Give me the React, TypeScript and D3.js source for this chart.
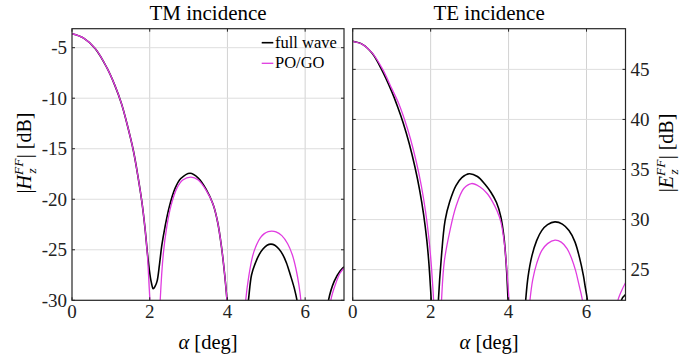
import React from "react";
import * as d3 from "d3";

// ---------- data ----------
const X_TICKS = [0, 2, 4, 6];
const TM_Y_TICKS = [-30, -25, -20, -15, -10, -5];
const TE_Y_TICKS = [25, 30, 35, 40, 45];

const TM_FW_ALPHA = [0, 0.3, 0.6, 0.9, 1.1, 1.27, 1.42, 1.58, 1.7, 1.8, 1.88, 1.94, 1.99, 2.04, 2.09, 2.14, 2.19, 2.25, 2.31, 2.39, 2.5, 2.65, 2.8, 3.04, 3.25, 3.45, 3.63, 3.75, 3.85, 3.93, 4.0, 4.1, 4.27, 4.44, 4.54, 4.62, 4.72, 4.82, 4.92, 5.02, 5.12, 5.22, 5.32, 5.42, 5.52, 5.62, 5.72, 5.8, 5.9, 6.2, 6.5, 6.6, 6.75, 6.9, 7.0];
const TM_FW_DB = [-3.62, -4.05, -5.1, -7.0, -8.7, -10.5, -12.6, -15.2, -17.8, -20.3, -22.9, -25.3, -27.0, -28.2, -28.85, -28.6, -28.1, -26.5, -24.6, -22.8, -20.8, -18.95, -17.95, -17.42, -17.9, -19.0, -20.5, -22.3, -24.8, -27.5, -30.5, -36, -45, -33, -30, -27.5, -26.3, -25.45, -24.9, -24.55, -24.44, -24.55, -24.9, -25.45, -26.3, -27.5, -28.8, -30.2, -33.5, -45, -33, -30, -28.1, -27.1, -26.7];

const TM_PO_ALPHA = [0, 0.3, 0.6, 0.9, 1.1, 1.27, 1.42, 1.58, 1.7, 1.8, 1.88, 1.94, 1.98, 2.01, 2.06, 2.13, 2.2, 2.27, 2.35, 2.44, 2.55, 2.7, 2.85, 3.06, 3.25, 3.45, 3.63, 3.75, 3.85, 3.93, 4.0, 4.1, 4.25, 4.38, 4.47, 4.55, 4.65, 4.75, 4.85, 4.95, 5.05, 5.14, 5.25, 5.4, 5.55, 5.67, 5.77, 5.84, 5.89, 5.97, 6.25, 6.55, 6.66, 6.8, 6.9, 7.0];
const TM_PO_DB = [-3.62, -4.05, -5.1, -7.0, -8.7, -10.5, -12.6, -15.2, -17.8, -20.3, -22.9, -25.5, -28.3, -30.5, -38, -45, -38, -30, -25.4, -22.7, -20.6, -18.9, -18.1, -17.8, -18.1, -19.1, -20.5, -22.3, -24.8, -27.5, -30.5, -36, -45, -35, -30, -27.6, -25.6, -24.5, -23.8, -23.4, -23.2, -23.15, -23.22, -23.6, -24.4, -25.5, -27.0, -28.5, -30, -34, -45, -35, -30, -28.2, -27.3, -26.8];

const TE_FW_ALPHA = [0, 0.25, 0.5, 0.74, 1.0, 1.15, 1.3, 1.45, 1.6, 1.72, 1.82, 1.9, 1.95, 1.99, 2.02, 2.06, 2.1, 2.15, 2.2, 2.27, 2.37, 2.49, 2.65, 2.8, 2.99, 3.2, 3.4, 3.55, 3.69, 3.8, 3.88, 3.94, 3.98, 4.02, 4.2, 4.35, 4.44, 4.5, 4.6, 4.72, 4.85, 5.0, 5.19, 5.38, 5.55, 5.7, 5.82, 5.92, 5.97, 6.02, 6.1, 6.45, 6.8, 6.9, 7.0];
const TE_FW_DB = [47.8, 47.5, 46.6, 45.0, 42.8, 41.3, 39.6, 37.6, 35.2, 32.9, 30.5, 28.0, 25.9, 23.6, 21.5, 16, 12, 17, 22, 26.0, 29.9, 31.8, 33.4, 34.2, 34.58, 34.3, 33.5, 32.7, 31.7, 30.3, 28.3, 25.5, 22.5, 19, 12, 17, 22, 24.3, 26.4, 27.9, 28.9, 29.5, 29.77, 29.55, 28.9, 27.8, 26.2, 24.4, 23.2, 22.0, 18, 12, 18, 22, 22.5];

const TE_PO_ALPHA = [0, 0.25, 0.5, 0.77, 1.0, 1.18, 1.33, 1.48, 1.63, 1.76, 1.87, 1.95, 2.01, 2.05, 2.08, 2.12, 2.17, 2.23, 2.28, 2.35, 2.49, 2.65, 2.85, 3.05, 3.25, 3.45, 3.6, 3.7, 3.8, 3.88, 3.95, 4.0, 4.05, 4.28, 4.45, 4.55, 4.62, 4.72, 4.85, 5.0, 5.19, 5.35, 5.5, 5.62, 5.72, 5.8, 5.86, 5.9, 5.98, 6.35, 6.65, 6.81, 6.9, 7.0];
const TE_PO_DB = [47.8, 47.5, 46.65, 45.0, 43.1, 41.6, 40.0, 38.1, 35.8, 33.4, 30.8, 28.3, 25.8, 23.6, 21.6, 16, 12, 17, 22, 25.8, 28.8, 31.3, 33.1, 33.6, 33.3, 32.6, 31.7, 30.9, 29.8, 28.0, 25.2, 22.6, 19, 12, 17, 22, 24.0, 25.6, 26.9, 27.6, 27.94, 27.75, 27.1, 26.1, 24.9, 23.6, 22.6, 21.8, 18, 12, 18, 22, 22.9, 23.7];

const LEGEND = ["full wave", "PO/GO"];

// ---------- style ----------
const FONT = "'Liberation Serif', 'Times New Roman', serif";
const BLACK = "#000000";
const MAGENTA = "#e03ce0";
const AXIS = "#262626";

type PanelProps = {
  id: string;
  x0: number; x1: number; y0: number; y1: number;
  yDomain: [number, number];
  yTicks: number[];
  fwA: number[]; fwV: number[];
  poA: number[]; poV: number[];
  right: boolean;
  title: string;
};

function Panel(p: PanelProps) {
  const xs = d3.scaleLinear().domain([0, 7]).range([p.x0, p.x1]);
  const ys = d3.scaleLinear().domain(p.yDomain).range([p.y1, p.y0]);
  const mk = (a: number[]) =>
    d3.line<number>().x((_, i) => xs(a[i])).y((d) => ys(d)).curve(d3.curveCatmullRom.alpha(0.5));
  const tl = 3;
  const cx = (p.x0 + p.x1) / 2;
  return (
    <g>
      <defs>
        <clipPath id={p.id}>
          <rect x={p.x0} y={p.y0} width={p.x1 - p.x0} height={p.y1 - p.y0} />
        </clipPath>
      </defs>
      {/* grid */}
      {X_TICKS.filter((t) => t > 0).map((t) => (
        <line key={"gx" + t} x1={xs(t)} x2={xs(t)} y1={p.y0} y2={p.y1} stroke="#d2d2d2" strokeWidth={1} />
      ))}
      {p.yTicks.map((t) => (
        <line key={"gy" + t} x1={p.x0} x2={p.x1} y1={ys(t)} y2={ys(t)} stroke="#dedede" strokeWidth={1} />
      ))}
      {/* curves */}
      <g clipPath={`url(#${p.id})`}>
        <path d={mk(p.fwA)(p.fwV) || ""} fill="none" stroke={BLACK} strokeWidth={1.6} strokeLinejoin="round" />
        <path d={mk(p.poA)(p.poV) || ""} fill="none" stroke={MAGENTA} strokeWidth={1.3} strokeLinejoin="round" />
      </g>
      {/* ticks */}
      {X_TICKS.map((t) => (
        <g key={"tx" + t}>
          <line x1={xs(t)} x2={xs(t)} y1={p.y1} y2={p.y1 - tl} stroke={AXIS} strokeWidth={1} />
          <line x1={xs(t)} x2={xs(t)} y1={p.y0} y2={p.y0 + tl} stroke={AXIS} strokeWidth={1} />
          <text x={xs(t)} y={p.y1 + 17.5} textAnchor="middle" fontFamily={FONT} fontSize={19} fill="#222">{t}</text>
        </g>
      ))}
      {p.yTicks.map((t) => (
        <g key={"ty" + t}>
          <line x1={p.x0} x2={p.x0 + tl} y1={ys(t)} y2={ys(t)} stroke={AXIS} strokeWidth={1} />
          <line x1={p.x1} x2={p.x1 - tl} y1={ys(t)} y2={ys(t)} stroke={AXIS} strokeWidth={1} />
          {p.right ? (
            <text x={p.x1 + 5} y={ys(t) + 6.3} textAnchor="start" fontFamily={FONT} fontSize={19} fill="#222">{t}</text>
          ) : (
            <text x={p.x0 - 5} y={ys(t) + 6.3} textAnchor="end" fontFamily={FONT} fontSize={19} fill="#222">{t}</text>
          )}
        </g>
      ))}
      {/* box */}
      <rect x={p.x0} y={p.y0} width={p.x1 - p.x0} height={p.y1 - p.y0} fill="none" stroke={AXIS} strokeWidth={1.2} />
      {/* title */}
      <text x={cx} y={19.5} textAnchor="middle" fontFamily={FONT} fontSize={21} fill="#000">{p.title}</text>
      {/* x label */}
      <text x={cx} y={349} textAnchor="middle" fontFamily={FONT} fontSize={20.5} fill="#000">
        <tspan fontStyle="italic">α</tspan>
        <tspan> [deg]</tspan>
      </text>
    </g>
  );
}

function YLabel({ x, y, letter }: { x: number; y: number; letter: string }) {
  return (
    <text transform={`translate(${x},${y}) rotate(-90)`} textAnchor="middle" fontFamily={FONT} fontSize={20} fill="#000">
      <tspan>|</tspan>
      <tspan fontStyle="italic">{letter}</tspan>
      <tspan fontStyle="italic" fontSize={13.5} dy={-8}>FF</tspan>
      <tspan fontStyle="italic" fontSize={13.5} dx={-15} dy={13}>z</tspan>
      <tspan dx={10} dy={-5}>|</tspan>
      <tspan> [dB]</tspan>
    </text>
  );
}

export default function App() {
  const L = { x0: 72, x1: 344, y0: 28.7, y1: 300.3 };
  const R = { x0: 352.7, x1: 625.5, y0: 28.7, y1: 300.3 };
  return (
    <svg width={694} height={360} viewBox="0 0 694 360" style={{ position: "fixed", left: 0, top: 0, background: "#fff" }}>
      <rect width={694} height={360} fill="#fff" />
      <Panel id="clipTM" {...L} yDomain={[-30, -3.12]} yTicks={TM_Y_TICKS}
        fwA={TM_FW_ALPHA} fwV={TM_FW_DB} poA={TM_PO_ALPHA} poV={TM_PO_DB} right={false} title="TM incidence" />
      <Panel id="clipTE" {...R} yDomain={[21.94, 49.06]} yTicks={TE_Y_TICKS}
        fwA={TE_FW_ALPHA} fwV={TE_FW_DB} poA={TE_PO_ALPHA} poV={TE_PO_DB} right={true} title="TE incidence" />
      <YLabel x={31} y={153} letter="H" />
      <YLabel x={673} y={153} letter="E" />
      {/* legend */}
      <line x1={261.7} x2={273.3} y1={42.7} y2={42.7} stroke={BLACK} strokeWidth={1.6} />
      <text x={275} y={47.5} fontFamily={FONT} fontSize={16.5} fill="#000">{LEGEND[0]}</text>
      <line x1={261.7} x2={273.3} y1={63.3} y2={63.3} stroke={MAGENTA} strokeWidth={1.3} />
      <text x={275} y={68} fontFamily={FONT} fontSize={16.5} fill="#000">{LEGEND[1]}</text>
    </svg>
  );
}
